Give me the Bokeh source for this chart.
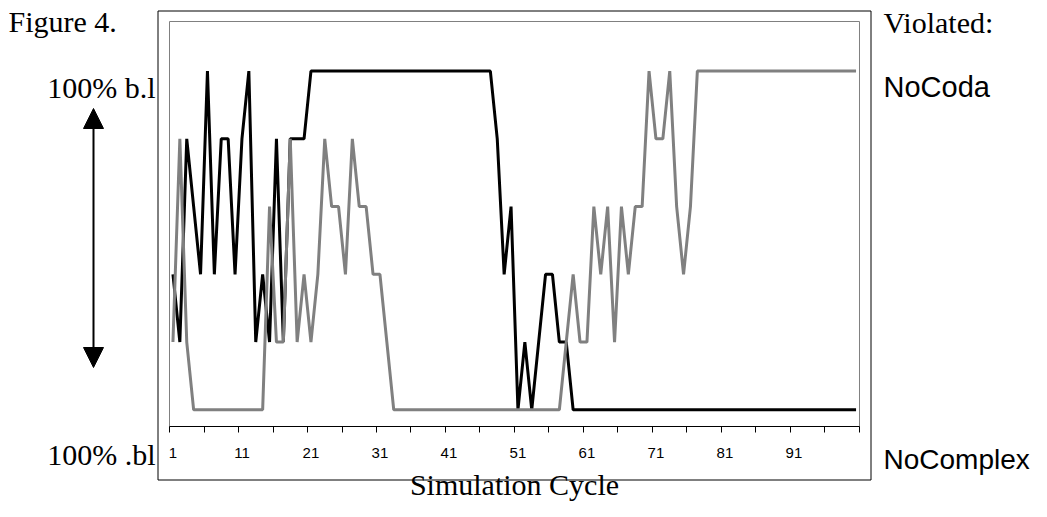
from bokeh.plotting import figure
from bokeh.models import Range1d, FixedTicker, Label, Arrow, NormalHead, BoxAnnotation
from bokeh.embed import file_html
from bokeh.resources import INLINE

# ---------------- data ----------------
cycles = list(range(1, 101))

# black series (percent)
black_series = [
    40, 20, 80, 60, 40, 100, 40, 80, 80, 40,
    80, 100, 20, 40, 20, 80, 20, 80, 80, 80,
    100, 100, 100, 100, 100, 100, 100, 100, 100, 100,
    100, 100, 100, 100, 100, 100, 100, 100, 100, 100,
    100, 100, 100, 100, 100, 100, 100, 80, 40, 60,
    0, 20, 0, 20, 40, 40, 20, 20, 0, 0,
    0, 0, 0, 0, 0, 0, 0, 0, 0, 0,
    0, 0, 0, 0, 0, 0, 0, 0, 0, 0,
    0, 0, 0, 0, 0, 0, 0, 0, 0, 0,
    0, 0, 0, 0, 0, 0, 0, 0, 0, 0,
]

# gray series (percent)
gray_series = [
    20, 80, 20, 0, 0, 0, 0, 0, 0, 0,
    0, 0, 0, 0, 60, 20, 20, 80, 20, 40,
    20, 40, 80, 60, 60, 40, 80, 60, 60, 40,
    40, 20, 0, 0, 0, 0, 0, 0, 0, 0,
    0, 0, 0, 0, 0, 0, 0, 0, 0, 0,
    0, 0, 0, 0, 0, 0, 0, 20, 40, 20,
    20, 60, 40, 60, 20, 60, 40, 60, 60, 100,
    80, 80, 100, 60, 40, 60, 100, 100, 100, 100,
    100, 100, 100, 100, 100, 100, 100, 100, 100, 100,
    100, 100, 100, 100, 100, 100, 100, 100, 100, 100,
]

tick_labels_at = [1, 11, 21, 31, 41, 51, 61, 71, 81, 91]
tick_marks_at = [0.5 + 5 * k for k in range(21)]   # category boundaries

# plot-area extent in data units
X_LO, X_HI = 0.5, 100.5
Y_LO, Y_HI = -4.93, 114.64

SERIF = "Liberation Serif"
SANS = "Liberation Sans"

# ---------------- figure ----------------
# The frame covers the whole canvas; the plot area is drawn inside it.
p = figure(
    width=1031, height=501,
    x_range=Range1d(-23.993, 125.428), y_range=Range1d(-27.072, 120.843),
    output_backend="svg", toolbar_location=None,
    y_axis_location=None, x_axis_location="below",
    min_border_left=0, min_border_right=0,
    min_border_top=0, min_border_bottom=0,
    background_fill_color="white", border_fill_color="white",
)
p.grid.grid_line_color = None
p.outline_line_color = None

ax = p.xaxis[0]
ax.fixed_location = Y_LO
ax.bounds = (X_LO, X_HI)
ax.ticker = FixedTicker(ticks=tick_labels_at, minor_ticks=tick_marks_at)
ax.major_tick_line_color = None
ax.major_tick_out = 6
ax.major_tick_in = 0
ax.minor_tick_line_color = "black"
ax.minor_tick_out = 6
ax.minor_tick_in = 0
ax.axis_line_color = "black"
ax.axis_line_width = 1
ax.major_label_text_font = SANS
ax.major_label_text_font_size = "15px"
ax.major_label_text_color = "black"
ax.major_label_standoff = 15

# inner plot-area border (under everything)
p.add_layout(BoxAnnotation(left=X_LO, right=X_HI, bottom=Y_LO, top=Y_HI,
                           fill_alpha=0, line_color="#808080", line_alpha=1.0,
                           line_width=1, level="underlay"))

# outer chart-area border
p.add_layout(BoxAnnotation(left=157.5, right=870.5, top=10.5, bottom=479.5,
                           left_units="canvas", right_units="canvas",
                           top_units="canvas", bottom_units="canvas",
                           fill_alpha=0, line_color="black", line_alpha=1.0,
                           line_width=1, level="underlay"))

p.line(cycles, black_series, line_color="black", line_width=3)
p.line(cycles, gray_series, line_color="#808080", line_width=3)


def lab(x, y, text, font, size, align="left"):
    p.add_layout(Label(x=x, y=y, x_units="canvas", y_units="canvas", text=text,
                       text_font=font, text_font_size=size, text_color="black",
                       text_align=align, text_baseline="alphabetic"))


lab(8, 21, "Figure 4.", SERIF, "30px")
lab(155, 87, "100% b.l", SERIF, "30px", "right")
lab(155, 454, "100% .bl", SERIF, "30px", "right")
lab(883, 22, "Violated:", SERIF, "30px")
lab(883, 86, "NoCoda", SANS, "29px")
lab(883, 459, "NoComplex", SANS, "28px")
lab(514, 484, "Simulation Cycle", SERIF, "30px", "center")

p.add_layout(Arrow(x_start=93, y_start=108, x_end=93, y_end=367,
                   start_units="canvas", end_units="canvas",
                   start=NormalHead(size=20, fill_color="black", line_color="black"),
                   end=NormalHead(size=20, fill_color="black", line_color="black"),
                   line_color="black", line_width=2))

open("out.html", "w").write(file_html(p, INLINE))
